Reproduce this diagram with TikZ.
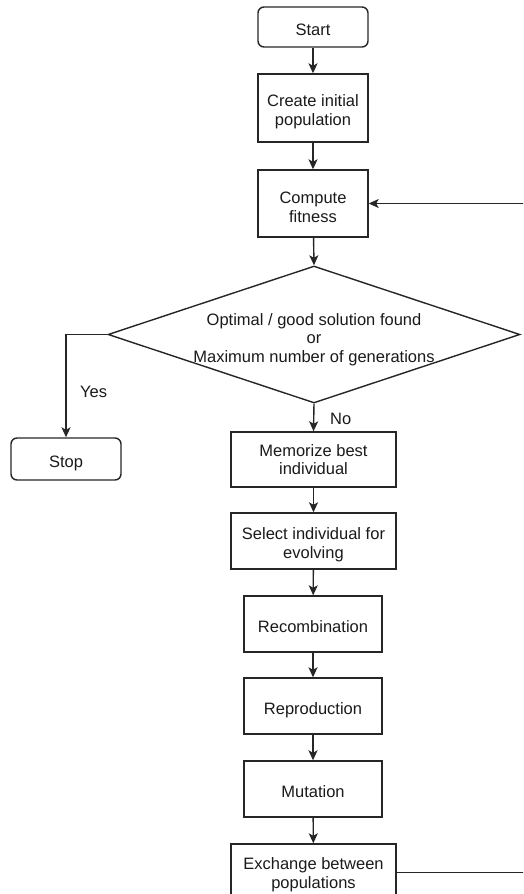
\documentclass[tikz,border=0pt]{standalone}
\usepackage{fontspec}
\setmainfont{Liberation Sans}
\usetikzlibrary{arrows.meta,shapes.geometric}

\definecolor{linegray}{HTML}{262626}
\definecolor{textgray}{HTML}{1A1A1A}

% invisible strut that adds room above the first line of a text block
\newcommand\padtop[1]{\rule{0pt}{#1}}

\tikzset{
  base/.style={draw=linegray, line width=1.4pt, text=textgray, align=center,
    inner sep=2pt, font=\fontsize{16.5}{18.5}\selectfont},
  terminal/.style={base, rounded corners=6pt},
  process/.style={base},
  % single-line boxes: caps sit slightly below the box centre
  oneline/.style={text height=16pt, text depth=0pt},
  decision/.style={draw=linegray, line width=1.4pt, diamond, inner sep=0pt},
  flow/.style={draw=linegray, line width=1.4pt,
    -{Stealth[length=10pt,width=9pt,inset=2.5pt]}},
  lbl/.style={text=textgray, inner sep=0pt, font=\fontsize{16.5}{18.5}\selectfont},
}

\begin{document}
\begin{tikzpicture}[x=1pt, y=-1pt]
  \useasboundingbox (0,0) rectangle (523,894);
  \clip (0,0) rectangle (523,894);

  % main column
  \node[terminal, oneline, minimum width=110pt, minimum height=40pt] (start) at (313,27) {Start};
  \node[process, minimum width=110pt, minimum height=68pt] (create) at (313,108) {\padtop{19.3pt}Create initial\\population};
  \node[process, minimum width=110pt, minimum height=67pt] (comp) at (313,203.5) {\padtop{18.8pt}Compute\\fitness};

  % termination test
  \node[decision, minimum width=412pt, minimum height=137pt] (dec) at (314,334.5) {};
  \node[lbl, align=center] (dectext) at (314,339.3) {Optimal / good solution found\\or\\Maximum number of generations};

  \node[terminal, oneline, minimum width=110pt, minimum height=42pt] (stop) at (66,459) {Stop};

  % evolution steps
  \node[process, minimum width=165pt, minimum height=55pt] (mem) at (313.5,459.5) {Memorize best\\individual};
  \node[process, minimum width=165pt, minimum height=56pt] (sel) at (313.5,541) {\padtop{19.3pt}Select individual for\\evolving};
  \node[process, oneline, minimum width=138pt, minimum height=56pt] (recomb) at (313,624) {Recombination};
  \node[process, oneline, minimum width=138pt, minimum height=56pt] (repro) at (313,706) {Reproduction};
  \node[process, oneline, minimum width=138pt, minimum height=56pt] (mut) at (313,789) {Mutation};
  \node[process, minimum width=165pt, minimum height=57pt] (exch) at (313.5,872.5) {\padtop{16.3pt}Exchange between\\populations};

  % connectors
  \draw[flow] (start) -- (create);
  \draw[flow] (create) -- (comp);
  \draw[flow] (comp) -- (dec.north);
  \draw[flow] (dec.west) -| (stop.north);
  \draw[flow] (dec.south) -- (mem.north);
  \draw[flow] (mem) -- (sel);
  \draw[flow] (sel) -- (recomb);
  \draw[flow] (recomb) -- (repro);
  \draw[flow] (repro) -- (mut);
  \draw[flow] (mut) -- (exch);

  % loop back to fitness evaluation
  \coordinate (loopx) at (532,0);
  \draw[flow] (exch.east) -- (exch.east -| loopx) |- (comp.east);

  % branch labels
  \node[lbl, anchor=west] (yes) at (80,392) {Yes};
  \node[lbl, anchor=west] (no) at (330,419) {No};
\end{tikzpicture}
\end{document}
